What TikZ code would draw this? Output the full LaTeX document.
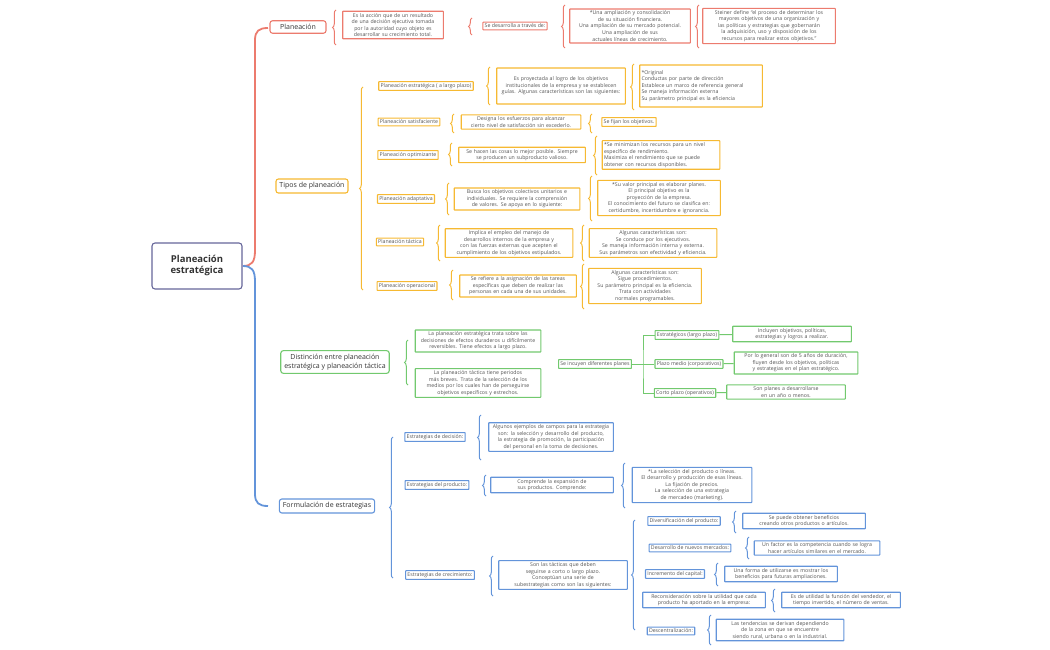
\documentclass[tikz,border=0pt]{standalone}
\usepackage{fontspec}
\setmainfont{Open Sans}
\usetikzlibrary{decorations.pathreplacing}
\definecolor{cR}{HTML}{EC7B6E}
\definecolor{cO}{HTML}{F6B932}
\definecolor{cG}{HTML}{72C96E}
\definecolor{cB}{HTML}{6394DA}
\definecolor{cT}{HTML}{555555}
\hyphenpenalty=10000 \exhyphenpenalty=10000
\newcommand\brc[4]{\draw[#1,line width=1pt,decorate,decoration={brace,amplitude=3.5pt}] (#2,#4) -- (#2,#3);}
\begin{document}
\begin{tikzpicture}[x=1pt,y=-1pt,
 every node/.style={font=\fontsize{5.2}{6.6}\selectfont,text=cT,align=center,inner sep=1.8pt},
 bx/.style={draw,line width=1.1pt,fill=white,rounded corners=0.5pt},
 rb/.style={bx,draw=cR}, ob/.style={bx,draw=cO}, gb/.style={bx,draw=cG}, bb/.style={bx,draw=cB},
 l1/.style={line width=1.1pt,rounded corners=2.5pt,font=\fontsize{7}{8.6}\selectfont,inner sep=3.5pt,text=black!80},
 tw/.style={text width=#1}]
\useasboundingbox (0,0) rectangle (1050,650);
% root
\node[draw=gray!80!blue,line width=1.1pt,rounded corners=3pt,minimum width=90pt,minimum height=46pt,font=\fontsize{9.5}{11}\selectfont\bfseries,text=black!80] (root) at (197,266) {Planeación\\estratégica};
\draw[cR,line width=1.8pt] (root.east) .. controls (252,266) and (255,262) .. (255,250) -- (255,40) .. controls (255,31) and (259,28) .. (268,28);
\draw[cB,line width=1.8pt] (root.east) .. controls (252,266) and (255,270) .. (255,282) -- (255,494) .. controls (255,503) and (259,506) .. (268,506);
% level 1
\node[rb,l1,minimum width=56pt] (pl) at (298,27) {Planeación};
\node[ob,l1] (tp) at (312,186) {Tipos de planeación};
\node[gb,l1] (di) at (335,362) {Distinción entre planeación\\estratégica y planeación táctica};
\node[bb,l1] (fo) at (327,506) {Formulación de estrategias};
% Planeacion row
\brc{cR}{336}{10}{45}
\node[rb,tw=97pt] (p1) at (393,25) {Es la acción que de un resultado de una decisión ejecutiva tomada por la autoridad cuyo objeto es desarrollar su crecimiento total.};
\brc{cR}{472}{18}{35}
\node[rb] (p2) at (515,26) {Se desarrolla a través de:};
\brc{cR}{565}{5}{48}
\node[rb,tw=117pt] (p3) at (630,26) {*Una ampliación y consolidación de su situación financiera.\\*Una ampliación de su mercado potencial.\\*Una ampliación de sus actuales líneas de crecimiento.};
\brc{cR}{699}{5}{48}
\node[rb,tw=129pt] (p4) at (769,26) {Steiner define ``el proceso de determinar los mayores objetivos de una organización y las políticas y estrategias que gobernarán la adquisición, uso y disposición de los recursos para realizar estos objetivos.''};
% Tipos
\brc{cO}{363}{87}{290}
\node[ob] (t1) at (426,86) {Planeación estratégica ( a largo plazo)};
\brc{cO}{490}{67}{105}
\node[ob,tw=125pt,minimum height=36pt] (t1a) at (561,86) {Es proyectada al logro de los objetivos institucionales de la empresa y se establecen guías. Algunas características son las siguientes:};
\brc{cO}{634}{64}{110}
\node[ob,tw=119pt,align=left,minimum height=42pt] (t1b) at (701,86) {*Original\\*Conductas por parte de dirección\\*Establece un marco de referencia general\\*Se maneja información externa\\*Su parámetro principal es la eficiencia};
\node[ob] (t2) at (409,122) {Planeación satisfaciente};
\brc{cO}{454}{114}{133}
\node[ob,tw=116pt] (t2a) at (521,122) {Designa los esfuerzos para alcanzar cierto nivel de satisfacción sin excederlo.};
\brc{cO}{592}{114}{133}
\node[ob] (t2b) at (629,122) {Se fijan los objetivos.};
\node[ob] (t3) at (408,155) {Planeación optimizante};
\brc{cO}{452}{143}{166}
\node[ob,tw=123pt] (t3a) at (522,155) {Se hacen las cosas lo mejor posible. Siempre se producen un subproducto valioso.};
\brc{cO}{597}{136}{175}
\node[ob,tw=114pt,align=left] (t3b) at (661,155) {*Se minimizan los recursos para un nivel específico de rendimiento.\\*Maximiza el rendimiento que se puede obtener con recursos disponibles.};
\node[ob] (t4) at (406,199) {Planeación adaptativa};
\brc{cO}{449}{183}{215}
\node[ob,tw=122pt] (t4a) at (517,199) {Busca los objetivos colectivos unitarios e individuales. Se requiere la comprensión de valores. Se apoya en lo siguiente:};
\brc{cO}{592}{176}{221}
\node[ob,tw=119pt] (t4b) at (659,198) {*Su valor principal es elaborar planes.\\*El principal objetivo es la proyección de la empresa.\\*El conocimiento del futuro se clasifica en: certidumbre, incertidumbre e ignorancia.};
\node[ob] (t5) at (400,242) {Planeación táctica};
\brc{cO}{440}{225}{261}
\node[ob,tw=124pt] (t5a) at (509,243) {Implica el empleo del manejo de desarrollos internos de la empresa y con las fuerzas externas que acepten el cumplimiento de los objetivos estipulados.};
\brc{cO}{584}{225}{261}
\node[ob,tw=124pt] (t5b) at (653,243) {Algunas características son:\\*Se conduce por los ejecutivos.\\*Se maneja información interna y externa.\\*Sus parámetros son efectividad y eficiencia.};
\node[ob] (t6) at (407,286) {Planeación operacional};
\brc{cO}{453}{270}{300}
\node[ob,tw=113pt] (t6a) at (518,286) {Se refiere a la asignación de las tareas específicas que deben de realizar las personas en cada una de sus unidades.};
\brc{cO}{584}{264}{309}
\node[ob,tw=109pt] (t6b) at (645,286) {Algunas características son:\\*Sigue procedimientos.\\*Su parámetro principal es la eficiencia.\\*Trata con actividades normales programables.};
% Distincion
\brc{cG}{408}{340}{385}
\node[gb,tw=122pt] (d1) at (478,341) {La planeación estratégica trata sobre las decisiones de efectos duraderos u difícilmente reversibles. Tiene efectos a largo plazo.};
\node[gb,tw=122pt] (d2) at (478,383) {La planeación táctica tiene periodos más breves. Trata de la selección de los medios por los cuales han de perseguirse objetivos específicos y estrechos.};
\node[gb] (sp) at (595,364) {Se incuyen diferentes planes};
\node[gb] (e1) at (687,335) {Estratégicos (largo plazo)};
\node[gb] (e2) at (689,364) {Plazo medio (corporativos)};
\node[gb] (e3) at (685,393) {Corto plazo (operativos)};
\coordinate (sj) at (643,364);
\draw[cG,line width=1pt] (sp.east) -- (sj) (e1.west) -| (sj) |- (e3.west) (sj) -- (e2.west);
\node[gb,tw=115pt] (e1a) at (792,334) {Incluyen objetivos, políticas, estrategias y logros a realizar.};
\node[gb,tw=120pt] (e2a) at (796,363) {Por lo general son de 5 años de duración, fluyen desde los objetivos, políticas y estrategias en el plan estratégico.};
\node[gb,tw=115pt] (e3a) at (786,392) {Son planes a desarrollarse en un año o menos.};
\draw[cG,line width=1pt] (e1) -- (e1a) (e2) -- (e2a) (e3) -- (e3a);
% Formulacion
\brc{cB}{393}{437}{578}
\node[bb] (f1) at (435,437) {Estrategias de decisión:};
\brc{cB}{481}{415}{460}
\node[bb,tw=121pt] (f1a) at (551,437) {Algunos ejemplos de campos para la estrategia son: la selección y desarrollo del producto, la estrategia de promoción, la participación del personal en la toma de decisiones.};
\node[bb] (f2) at (437,485) {Estrategias del producto:};
\brc{cB}{486}{475}{496}
\node[bb,tw=119pt] (f2a) at (552,485) {Comprende la expansión de sus productos. Comprende:};
\brc{cB}{625}{463}{508}
\node[bb,tw=116pt] (f2b) at (692,485) {*La selección del producto o líneas.\\*El desarrollo y producción de esas líneas.\\*La fijación de precios.\\*La selección de una estrategia de mercadeo (marketing).};
\node[bb] (f3) at (440,575) {Estrategias de crecimiento:};
\brc{cB}{493}{556}{596}
\node[bb,tw=125pt] (f3a) at (563,575) {Son las tácticas que deben seguirse a corto o largo plazo.\\Conceptúan una serie de subestrategias como son las siguientes:};
\brc{cB}{635}{520}{630}
\node[bb] (g1) at (684,521) {Diversificación del producto:};
\brc{cB}{736}{511}{533}
\node[bb,tw=119pt] (g1a) at (804,521) {Se puede obtener beneficios creando otros productos o artículos.};
\node[bb] (g2) at (690,548) {Desarrollo de nuevos mercados:};
\brc{cB}{749}{537}{559}
\node[bb,tw=122pt] (g2a) at (817,548) {Un factor es la competencia cuando se logra hacer artículos similares en el mercado.};
\node[bb] (g3) at (675,574) {Incremento del capital:};
\brc{cB}{718}{563}{586}
\node[bb,tw=109pt] (g3a) at (781,574) {Una forma de utilizarse es mostrar los beneficios para futuras ampliaciones.};
\node[bb,tw=119pt] (g4) at (704,600) {Reconsideración sobre la utilidad que cada producto ha aportado en la empresa:};
\brc{cB}{775}{589}{612}
\node[bb,tw=115pt] (g4a) at (841,600) {Es de utilidad la función del vendedor, el tiempo invertido, el número de ventas.};
\node[bb] (g5) at (671,631) {Descentralización:};
\brc{cB}{711}{615}{645}
\node[bb,tw=124pt] (g5a) at (780,630) {Las tendencias se derivan dependiendo de la zona en que se encuentre siendo rural, urbana o en la industrial.};
\end{tikzpicture}
\end{document}
